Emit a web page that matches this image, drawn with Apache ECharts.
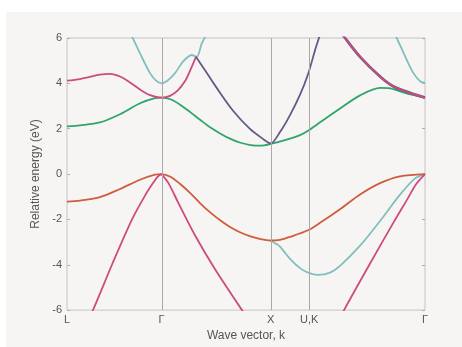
<!DOCTYPE html>
<html>
<head>
<meta charset="utf-8">
<script src="https://cdn.jsdelivr.net/npm/echarts@6/dist/echarts.min.js"></script>
<style>
  html, body { margin: 0; padding: 0; background: #ffffff; }
  #wrap { position: absolute; left: 6px; top: 12px; width: 456px; height: 335px; background: #f7f5f3; }
  #chart { position: absolute; left: -6px; top: -12px; width: 462px; height: 347px; }
</style>
</head>
<body>
<div id="wrap"><div id="chart"></div></div>
<script>
// high symmetry points along the path (units of 2pi/a)
const kTicks = [0, 0.866, 1.866, 2.220, 3.281];
const kLabels = ['L', 'Γ', 'X', 'U,K', 'Γ'];

// valence bands, [k, E] in eV
const vbPinkLG = [[0, -8.4], [0.238, -6.0], [0.412, -4.0], [0.596, -2.0], [0.715, -0.95], [0.788, -0.4], [0.830, -0.12], [0.866, 0]];
const vbPinkGX = [[0.866, 0], [0.930, -0.4], [1.018, -1.25], [1.173, -2.7], [1.357, -4.2], [1.604, -6.0], [1.861, -7.8]];
const vbPinkKG = [[2.319, -8.0], [2.539, -6.0], [2.771, -4.0], [2.997, -2.1], [3.114, -1.15], [3.199, -0.45], [3.281, 0]];
const vbOrange = [[0, -1.22], [0.119, -1.17], [0.302, -1.02], [0.486, -0.66], [0.669, -0.25], [0.807, -0.03], [0.866, 0],
  [0.948, -0.12], [1.040, -0.45], [1.132, -0.85], [1.223, -1.3], [1.315, -1.7], [1.407, -2.05], [1.498, -2.35],
  [1.590, -2.58], [1.682, -2.75], [1.774, -2.87], [1.866, -2.93], [1.952, -2.9], [2.044, -2.77], [2.209, -2.48],
  [2.319, -2.15], [2.502, -1.55], [2.686, -0.9], [2.869, -0.4], [3.052, -0.1], [3.281, 0]];
const vbTeal = [[1.866, -2.93], [1.906, -3.05], [1.952, -3.2], [2.044, -3.74], [2.136, -4.15], [2.209, -4.35], [2.301, -4.45],
  [2.411, -4.35], [2.502, -4.05], [2.686, -3.16], [2.869, -2.07], [3.052, -0.91], [3.190, -0.19], [3.281, 0]];

// conduction bands
const cbGreen = [[0, 2.1], [0.119, 2.15], [0.302, 2.28], [0.486, 2.64], [0.669, 3.12], [0.807, 3.35], [0.866, 3.37],
  [0.948, 3.3], [1.040, 3.05], [1.132, 2.72], [1.223, 2.38], [1.315, 2.05], [1.407, 1.78], [1.498, 1.55], [1.590, 1.38],
  [1.682, 1.28], [1.774, 1.25], [1.866, 1.33],
  [1.998, 1.5], [2.136, 1.72], [2.209, 1.91], [2.319, 2.28], [2.502, 2.89], [2.686, 3.47], [2.869, 3.8], [2.961, 3.78],
  [3.052, 3.65], [3.162, 3.5], [3.281, 3.37]];
const cbPink = [[0, 4.12], [0.119, 4.19], [0.302, 4.38], [0.394, 4.42], [0.486, 4.3], [0.577, 4.04], [0.669, 3.73],
  [0.761, 3.48], [0.866, 3.37], [0.944, 3.45], [1.018, 3.7], [1.082, 4.1], [1.127, 4.55], [1.182, 5.17]];
const cbPurple = [[1.182, 5.17], [1.265, 4.58], [1.372, 3.8], [1.524, 2.78], [1.677, 1.99], [1.796, 1.55], [1.866, 1.35],
  [1.952, 1.85], [2.044, 2.6], [2.136, 3.5], [2.209, 4.4], [2.282, 5.6], [2.337, 6.4]];
const cbTopKG = [[2.502, 6.3], [2.548, 6.0], [2.686, 5.17], [2.869, 4.3], [2.988, 3.87], [3.144, 3.58], [3.281, 3.37]];
const cbTealG = [[0.532, 6.6], [0.602, 6.0], [0.669, 5.32], [0.761, 4.45], [0.816, 4.12], [0.866, 4.0], [0.917, 4.1],
  [0.990, 4.45], [1.063, 4.96], [1.143, 5.25], [1.189, 5.17], [1.235, 5.76], [1.265, 6.04], [1.292, 6.4]];
const cbTealKG = [[2.961, 6.6], [3.022, 6.0], [3.114, 5.03], [3.175, 4.45], [3.236, 4.09], [3.281, 4.02]];

const PINK = '#cc4c7c', TEAL = '#80bfc0', GREEN = '#2ea56b', PURPLE = '#665887', ORANGE = '#d05b3d';
const FONT = 'Liberation Sans, Arial, sans-serif';

const band = (data, color, width, z) => ({
  type: 'line', data, smooth: 0.3, showSymbol: false, silent: true, clip: true,
  lineStyle: { color, width: width || 1.8 }, z: z || 3
});

const chart = echarts.init(document.getElementById('chart'), null, { renderer: 'canvas' });

const option = {
  animation: false,
  grid: { left: 67, right: 37, top: 38, bottom: 33, show: true, borderColor: '#c4c4c4', borderWidth: 1, backgroundColor: 'transparent' },
  xAxis: {
    type: 'value', min: 0, max: 3.281,
    name: 'Wave vector, k', nameLocation: 'middle', nameGap: 16,
    nameTextStyle: { color: '#555', fontSize: 12, fontFamily: FONT },
    axisLine: { show: false }, splitLine: { show: false },
    axisTick: { show: false },
    axisLabel: {
      customValues: kTicks, color: '#555', fontSize: 11, fontFamily: FONT, margin: 4,
      formatter: (v) => {
        let best = 0;
        kTicks.forEach((t, i) => { if (Math.abs(t - v) < Math.abs(kTicks[best] - v)) best = i; });
        return kLabels[best];
      }
    }
  },
  yAxis: [{
    type: 'value', min: -6, max: 6, interval: 2,
    name: 'Relative energy (eV)', nameLocation: 'middle', nameGap: 15,
    nameTextStyle: { color: '#555', fontSize: 12, fontFamily: FONT },
    axisLine: { show: false }, splitLine: { show: false },
    axisTick: { show: true, inside: true, length: 3, lineStyle: { color: '#b0b0b0' } },
    axisLabel: { color: '#555', fontSize: 11, fontFamily: FONT, margin: 5 }
  }, {
    type: 'value', min: -6, max: 6, interval: 2, position: 'right',
    axisLine: { show: false }, splitLine: { show: false },
    axisTick: { show: true, inside: true, length: 3, lineStyle: { color: '#b0b0b0' } },
    axisLabel: { show: false }
  }],
  series: [
    {
      type: 'line', data: [], silent: true, z: 1,
      markLine: {
        symbol: 'none', silent: true, label: { show: false },
        lineStyle: { color: '#a9a9a9', width: 1, type: 'solid' },
        data: kTicks.slice(1, 4).map(k => ({ xAxis: k }))
      }
    },
    band(vbTeal, TEAL),
    band(vbOrange, ORANGE),
    band(vbPinkLG, PINK),
    band(vbPinkGX, PINK),
    band(vbPinkKG, PINK),
    band(cbGreen, GREEN),
    band(cbTealG, TEAL),
    band(cbTealKG, TEAL),
    band(cbPink, PINK),
    band(cbPurple, PURPLE),
    band(cbTopKG, PURPLE, 2.8),
    band(cbTopKG, PINK, 1.6, 4)
  ]
};

chart.setOption(option);
</script>
</body>
</html>
